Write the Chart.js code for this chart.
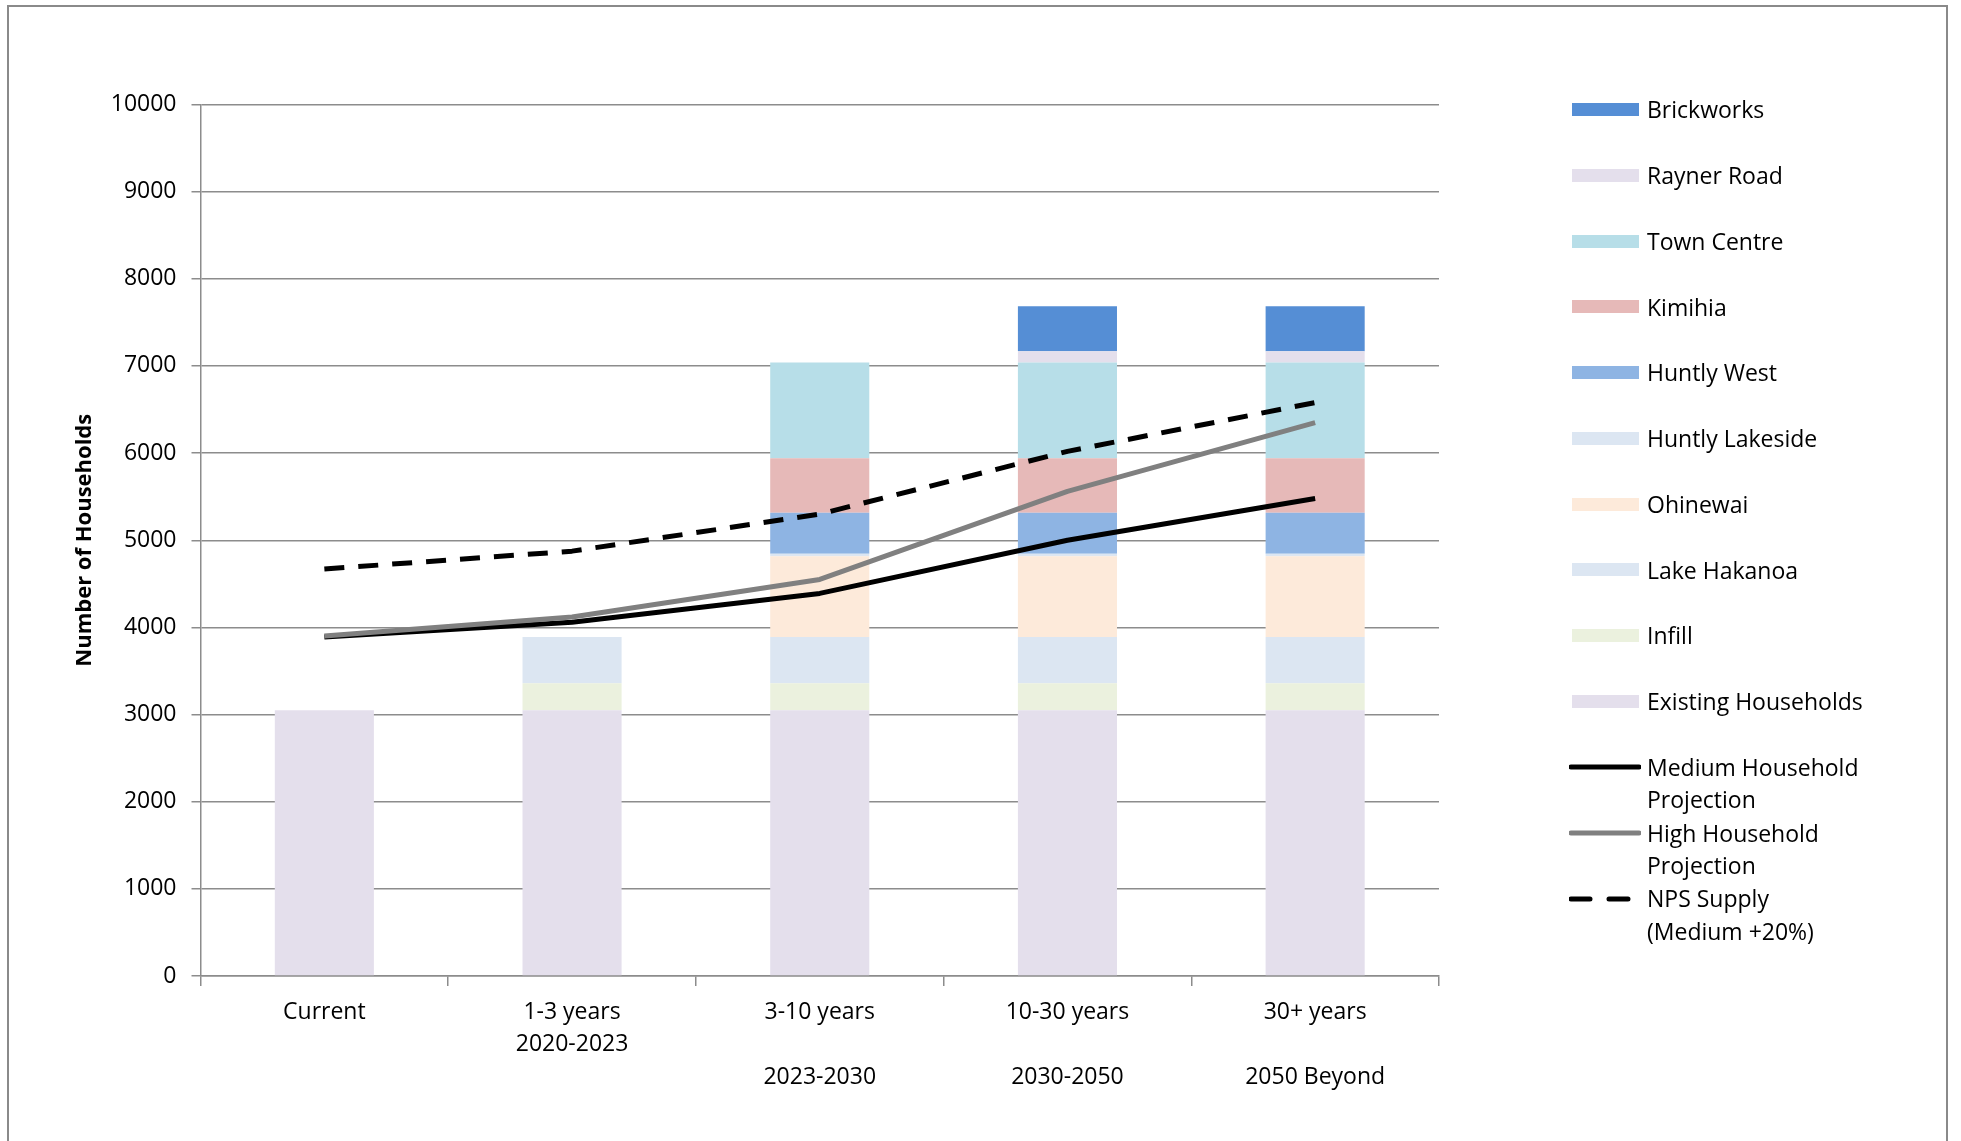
<!DOCTYPE html>
<html>
<head>
<meta charset="utf-8">
<script src="https://cdn.jsdelivr.net/npm/chart.js@4.4.1/dist/chart.umd.min.js"></script>
<style>
  html, body { margin: 0; padding: 0; background: #fff; overflow: hidden; }
  #wrap { position: relative; width: 1961px; height: 1141px; }
  #frame { position: absolute; left: 7px; top: 5px; width: 1941px; height: 1200px;
           border: 2px solid #8a8a8a; box-sizing: border-box; pointer-events: none; }
  canvas { position: absolute; left: 0; top: 0; }
  .lg { position: absolute; font-family: "Open Sans", sans-serif; font-size: 23px;
        line-height: 32.5px; color: #000; white-space: nowrap; }
</style>
</head>
<body>
<div id="wrap">
  <canvas id="c" width="1961" height="1141"></canvas>
  <div id="frame"></div>
  <div id="legend"></div>
</div>
<script>
// ---------- data ----------
const categories = [
  ['Current'],
  ['1-3 years', '2020-2023'],
  ['3-10 years', '', '2023-2030'],
  ['10-30 years', '', '2030-2050'],
  ['30+ years', '', '2050 Beyond']
];
const yTicks = [0, 1000, 2000, 3000, 4000, 5000, 6000, 7000, 8000, 9000, 10000];

const existingHouseholds = [3050, 3050, 3050, 3050, 3050];
const infill            = [null, 310, 310, 310, 310];
const lakeHakanoa       = [null, 530, 530, 530, 530];
const ohinewai          = [null, null, 925, 925, 925];
const huntlyLakeside    = [null, null, 30, 30, 30];
const huntlyWest        = [null, null, 470, 470, 470];
const kimihia           = [null, null, 625, 625, 625];
const townCentre        = [null, null, 1100, 1100, 1100];
const raynerRoad        = [null, null, null, 130, 130];
const brickworks        = [null, null, null, 515, 515];

const mediumProjection  = [3890, 4060, 4390, 5000, 5480];
const highProjection    = [3900, 4120, 4550, 5560, 6350];
const npsSupply         = [4670, 4875, 5300, 6020, 6580];

// ---------- styles ----------
const barSeries = [
  { label: 'Existing Households', data: existingHouseholds, color: '#E4DFEC' },
  { label: 'Infill',              data: infill,             color: '#EBF1DE' },
  { label: 'Lake Hakanoa',        data: lakeHakanoa,        color: '#DCE6F2' },
  { label: 'Ohinewai',            data: ohinewai,           color: '#FDEADA' },
  { label: 'Huntly Lakeside',     data: huntlyLakeside,     color: '#DCE6F2' },
  { label: 'Huntly West',         data: huntlyWest,         color: '#8EB4E3' },
  { label: 'Kimihia',             data: kimihia,            color: '#E6B9B8' },
  { label: 'Town Centre',         data: townCentre,         color: '#B7DEE8' },
  { label: 'Rayner Road',         data: raynerRoad,         color: '#E4DFEC' },
  { label: 'Brickworks',          data: brickworks,         color: '#558ED5' }
];
const lineSeries = [
  { label: 'Medium Household Projection', lines: ['Medium Household', 'Projection'], data: mediumProjection, color: '#000000', dash: [], order: 3 },
  { label: 'High Household Projection',   lines: ['High Household', 'Projection'],   data: highProjection,   color: '#808080', dash: [], order: 2 },
  { label: 'NPS Supply (Medium +20%)',    lines: ['NPS Supply', '(Medium +20%)'],    data: npsSupply,        color: '#000000', dash: [20, 14], order: 1 }
];

const datasets = [];
barSeries.forEach(s => datasets.push({
  type: 'bar', label: s.label, data: s.data, backgroundColor: s.color,
  borderWidth: 0, stack: 'bars', order: 10,
  barPercentage: 0.4, categoryPercentage: 1.0
}));
lineSeries.forEach((s, i) => datasets.push({
  type: 'line', label: s.label, data: s.data, borderColor: s.color,
  borderWidth: 5, borderDash: s.dash, pointRadius: 0, tension: 0,
  fill: false, stack: 'line' + i, order: s.order,
  borderJoinStyle: 'round', borderCapStyle: 'butt'
}));

const FONT = '"Open Sans", sans-serif';
const GRID = '#8c8c8c';

new Chart(document.getElementById('c'), {
  data: { labels: categories, datasets },
  options: {
    responsive: false, animation: false,
    layout: { padding: { left: 72, right: 522, top: 104.5, bottom: 0 } },
    plugins: { legend: { display: false }, tooltip: { enabled: false } },
    scales: {
      x: {
        stacked: true,
        offset: true,
        grid: { display: true, drawOnChartArea: false, offset: true, color: GRID, lineWidth: 1.5, tickLength: 10 },
        border: { display: true, color: GRID, width: 1.5 },
        ticks: { color: '#000', font: { family: FONT, size: 23, lineHeight: 1.413 }, padding: 10, maxRotation: 0, autoSkip: false },
        afterFit: (s) => { s.height = 165; }
      },
      y: {
        stacked: true,
        min: 0, max: 10000,
        afterBuildTicks: (s) => { s.ticks = yTicks.map(v => ({ value: v })); },
        grid: { color: GRID, lineWidth: 1.5, tickLength: 9 },
        border: { display: true, color: GRID, width: 1.5 },
        ticks: { color: '#000', font: { family: FONT, size: 23 }, padding: 15,
                 callback: (v) => String(v) },
        title: { display: true, text: 'Number of Households', color: '#000',
                 font: { family: FONT, size: 22, weight: 'bold', lineHeight: 1.2 }, padding: 0 },
        afterFit: (s) => { s.width = 128.5; }
      }
    }
  }
});

// ---------- HTML legend (reverse stack order, then lines) ----------
const legend = document.getElementById('legend');
const legendItems = [];
barSeries.slice().reverse().forEach(s => legendItems.push({ kind: 'bar', lines: [s.label], color: s.color }));
lineSeries.forEach(s => legendItems.push({ kind: 'line', lines: s.lines, color: s.color, dash: s.dash }));

legendItems.forEach((it, i) => {
  const cy = 109.5 + i * 65.75;
  if (it.kind === 'bar') {
    const sw = document.createElement('div');
    sw.style.cssText = `position:absolute;left:1572px;top:${cy - 6.5}px;width:67px;height:13px;background:${it.color};`;
    legend.appendChild(sw);
  } else {
    const ns = 'http://www.w3.org/2000/svg';
    const svg = document.createElementNS(ns, 'svg');
    svg.setAttribute('width', '72'); svg.setAttribute('height', '10');
    svg.style.cssText = `position:absolute;left:1569px;top:${cy - 5}px;`;
    const ln = document.createElementNS(ns, 'line');
    ln.setAttribute('x1', '2'); ln.setAttribute('x2', '70');
    ln.setAttribute('y1', '5'); ln.setAttribute('y2', '5');
    ln.setAttribute('stroke', it.color); ln.setAttribute('stroke-width', '5');
    ln.setAttribute('stroke-linecap', 'round');
    if (it.dash.length) ln.setAttribute('stroke-dasharray', '19 19');
    svg.appendChild(ln);
    legend.appendChild(svg);
  }
  const tx = document.createElement('div');
  tx.className = 'lg';
  tx.style.left = '1647px';
  tx.style.top = (cy - 16.25) + 'px';
  tx.innerHTML = it.lines.map(t => t.replace(/&/g, '&amp;').replace(/</g, '&lt;')).join('<br>');
  legend.appendChild(tx);
});
</script>
</body>
</html>
